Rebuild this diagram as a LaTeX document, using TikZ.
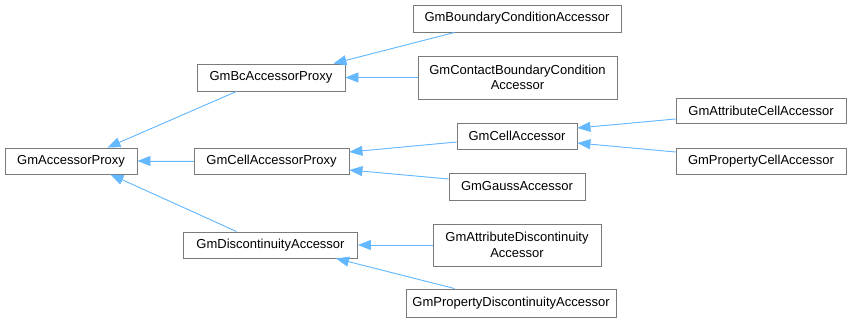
\documentclass[tikz,border=0pt]{standalone}
\usepackage{fontspec}
\setmainfont{Liberation Sans}
\usepackage{tikz}
\usetikzlibrary{arrows.meta}
\definecolor{boxgray}{HTML}{7A7A7A}
\definecolor{inhblue}{HTML}{63B8FF}
\tikzset{cls/.style={draw=boxgray, fill=white, line width=0.9pt, align=center, inner sep=2pt, font=\fontsize{13}{15.5}\selectfont},inh/.style={-{Triangle[length=13pt, width=10pt]}, draw=inhblue, fill=inhblue, line width=0.9pt}}

\begin{document}
\begin{tikzpicture}[x=1pt, y=-1pt]
  \useasboundingbox (0,0) rectangle (851,323);

  % Base
  \node[cls, minimum width=132pt, minimum height=26pt] (ap) at (71,161) {GmAccessorProxy};

  % Level 1
  \node[cls, minimum width=148pt, minimum height=27pt] (bcp) at (271,77.5) {GmBcAccessorProxy};
  \node[cls, minimum width=155pt, minimum height=26pt] (cap) at (271.5,161) {GmCellAccessorProxy};
  \node[cls, minimum width=174pt, minimum height=26pt] (dis) at (270.5,245) {GmDiscontinuityAccessor};

  % Level 2
  \node[cls, minimum width=208pt, minimum height=27pt] (bca) at (517,18.5) {GmBoundaryConditionAccessor};
  \node[cls, minimum width=199pt, minimum height=43pt] (cbca) at (517.5,77.5) {GmContactBoundaryCondition\\ Accessor};
  \node[cls, minimum width=120pt, minimum height=26pt] (ca) at (517,136) {GmCellAccessor};
  \node[cls, minimum width=136pt, minimum height=27pt] (ga) at (517,186.5) {GmGaussAccessor};
  \node[cls, minimum width=168pt, minimum height=42pt] (ada) at (517,245) {GmAttributeDiscontinuity\\ Accessor};
  \node[cls, minimum width=210pt, minimum height=28pt] (pda) at (511,303) {GmPropertyDiscontinuityAccessor};

  % Level 3
  \node[cls, minimum width=170pt, minimum height=25pt] (aca) at (761,110.5) {GmAttributeCellAccessor};
  \node[cls, minimum width=170pt, minimum height=26pt] (pca) at (761,161) {GmPropertyCellAccessor};

  % inheritance edges
  \draw[inh] ([xshift=40pt]bcp.south west) -- ([xshift=-30pt]ap.north east);
  \draw[inh] (cap.west) -- (ap.east);
  \draw[inh] ([xshift=53.5pt]dis.north west) -- ([xshift=-27pt]ap.south east);
  \draw[inh] ([xshift=42pt]bca.south west) -- ([xshift=-12pt]bcp.north east);
  \draw[inh] (cbca.west) -- (bcp.east);
  \draw[inh] ([yshift=-6pt]ca.west) -- ([yshift=9pt]cap.east);
  \draw[inh] ([yshift=7.5pt]ga.west) -- ([yshift=-9pt]cap.east);
  \draw[inh] ([yshift=-8.5pt]aca.west) -- ([yshift=8pt]ca.east);
  \draw[inh] ([yshift=9pt]pca.west) -- ([yshift=-7pt]ca.east);
  \draw[inh] (ada.west) -- (dis.east);
  \draw[inh] ([xshift=49pt]pda.north west) -- ([xshift=-22pt]dis.south east);
\end{tikzpicture}
\end{document}
